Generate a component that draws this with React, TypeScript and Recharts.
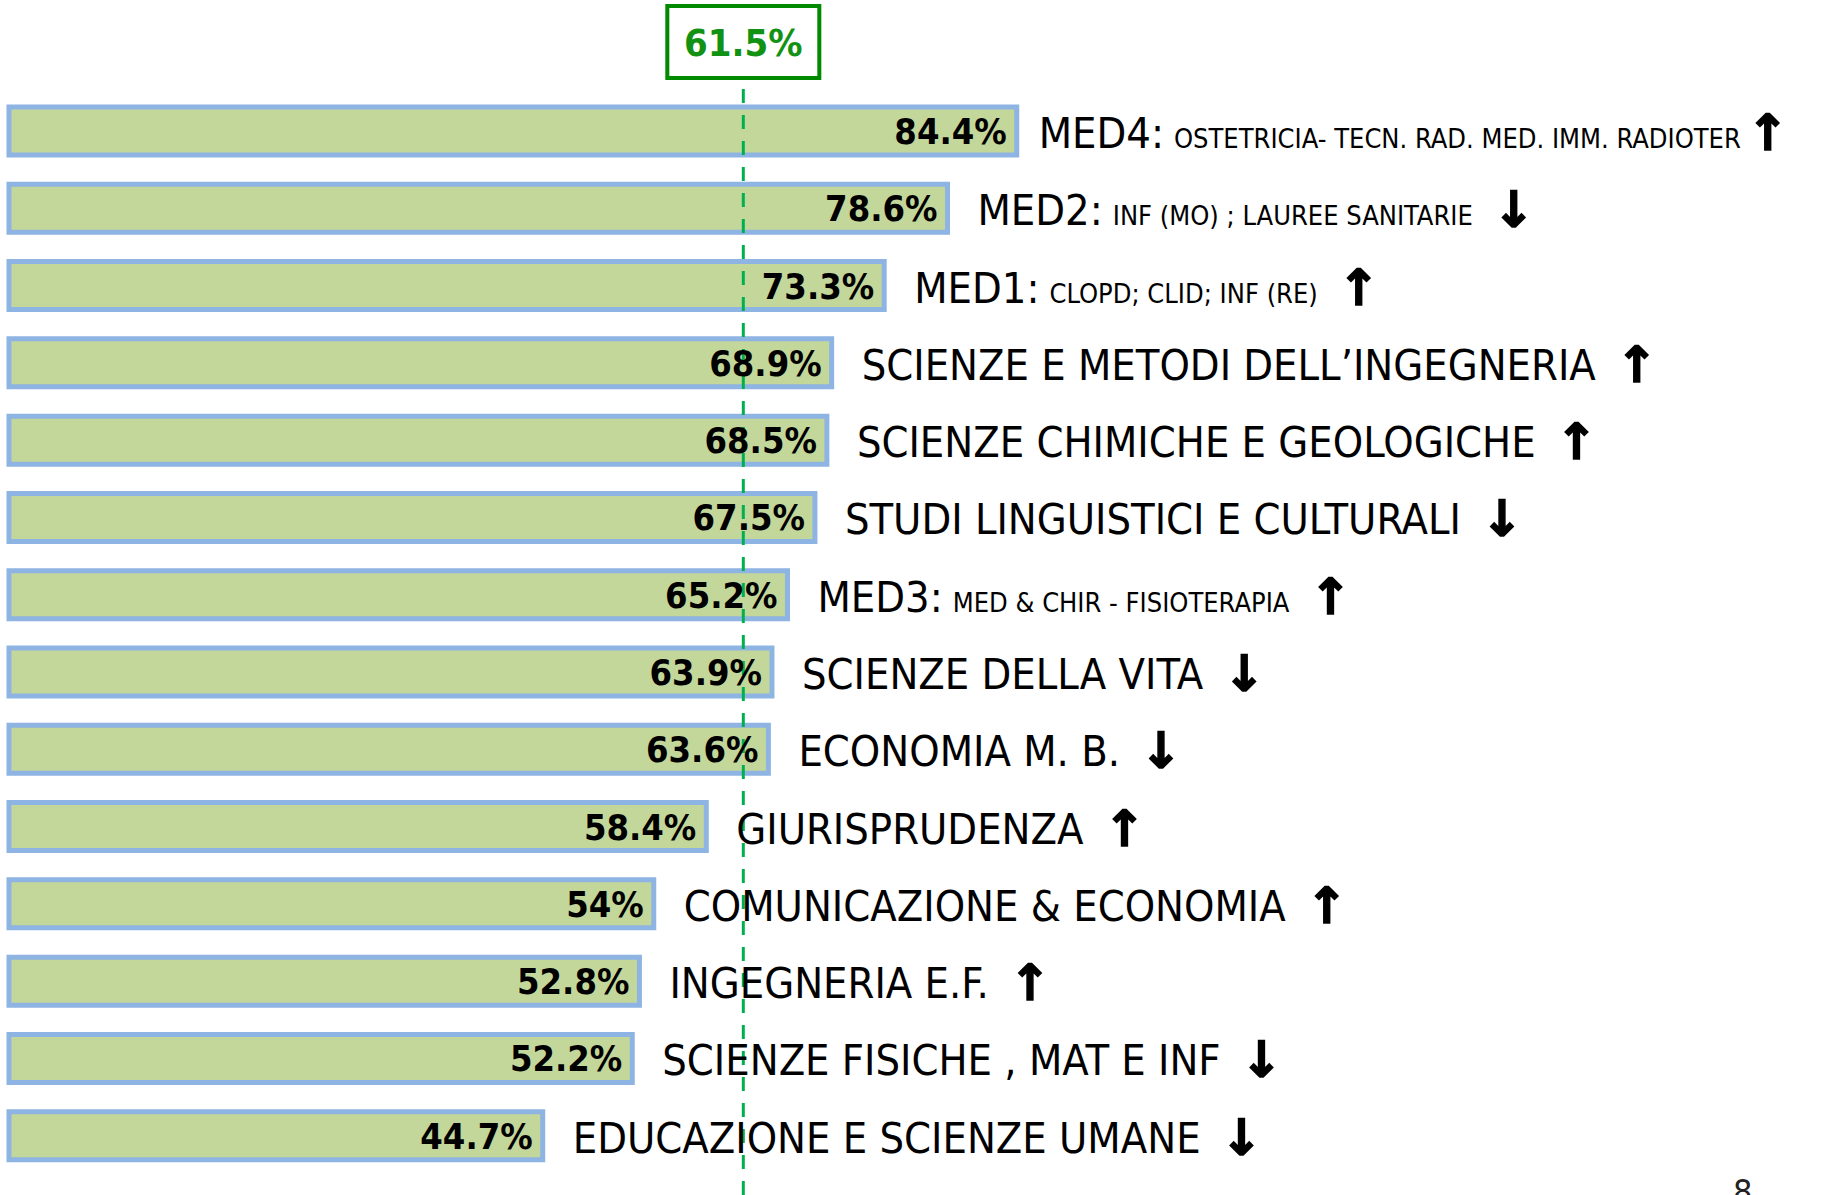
import { BarChart, Bar, XAxis, YAxis, ReferenceLine, LabelList } from "recharts";

const categories = [
  "MED4:",
  "MED2:",
  "MED1:",
  "SCIENZE E METODI DELL’INGEGNERIA",
  "SCIENZE CHIMICHE E GEOLOGICHE",
  "STUDI LINGUISTICI E CULTURALI",
  "MED3:",
  "SCIENZE DELLA VITA",
  "ECONOMIA M. B.",
  "GIURISPRUDENZA",
  "COMUNICAZIONE & ECONOMIA",
  "INGEGNERIA E.F.",
  "SCIENZE FISICHE , MAT E INF",
  "EDUCAZIONE E SCIENZE UMANE",
];

const subtitles = [
  "OSTETRICIA- TECN. RAD. MED. IMM. RADIOTER",
  "INF (MO) ; LAUREE SANITARIE",
  "CLOPD; CLID; INF (RE)",
  "",
  "",
  "",
  "MED & CHIR - FISIOTERAPIA",
  "",
  "",
  "",
  "",
  "",
  "",
  "",
];

const values = [84.4, 78.6, 73.3, 68.9, 68.5, 67.5, 65.2, 63.9, 63.6, 58.4, 54, 52.8, 52.2, 44.7];

const trends = ["up", "down", "up", "up", "up", "down", "up", "down", "down", "up", "up", "up", "down", "down"];

const average = 61.5;

const rows = categories.map((name, i) => ({
  name,
  sub: subtitles[i],
  value: values[i],
  trend: trends[i],
}));

const FONT = "'Liberation Sans Narrow', 'DejaVu Sans Condensed', 'Open Sans', sans-serif";

function ValueLabel(props: any) {
  const { x, y, width, height, value } = props;
  return (
    <text
      x={x + width - 10}
      y={y + height / 2 + 13}
      textAnchor="end"
      fontFamily={FONT}
      fontWeight="bold"
      fontSize={36}
      fill="#000"
    >
      {value}%
    </text>
  );
}

function CategoryLabel(props: any) {
  const { x, y, width, height, index } = props;
  const row = rows[index];
  const first = index === 0;
  return (
    <text x={x + width + (first ? 22 : 30)} y={y + height / 2 + 17} fontFamily={FONT} fontSize={43} fill="#000">
      <tspan>{row.name}</tspan>
      {row.sub ? (
        <tspan fontSize={27} dx={10}>
          {row.sub}
        </tspan>
      ) : null}
      <tspan
        fontFamily="DejaVu Sans"
        fontWeight="bold"
        fontSize={50}
        stroke="#000"
        strokeWidth={1.5}
        dx={first ? 6 : 20}
        dy={2}
      >
        {row.trend === "up" ? "↑" : "↓"}
      </tspan>
    </text>
  );
}

function AverageBox(props: any) {
  const { viewBox } = props;
  const cx = viewBox.x;
  const top = viewBox.y;
  return (
    <g>
      <rect x={cx - 76} y={top - 76} width={152} height={72} fill="#fff" stroke="#008a00" strokeWidth={4} />
      <text
        x={cx}
        y={top - 26}
        textAnchor="middle"
        fontFamily={FONT}
        fontWeight="bold"
        fontSize={38}
        fill="#129212"
      >
        {average}%
      </text>
    </g>
  );
}

export default function App() {
  return (
    <div style={{ position: "absolute", left: 0, top: 0, width: 1826, height: 1195, background: "#fff", overflow: "hidden" }}>
      <BarChart
        width={1826}
        height={1195}
        data={rows}
        layout="vertical"
        margin={{ top: 82, right: 26, bottom: 0, left: 9 }}
        barSize={48}
      >
        <XAxis type="number" domain={[0, 150]} hide />
        <YAxis
          type="category"
          dataKey="name"
          width={0}
          tick={false}
          tickLine={false}
          axisLine={{ stroke: "#000", strokeWidth: 1.5 }}
          padding={{ top: 10, bottom: 21 }}
        />
        <Bar dataKey="value" fill="#c4d79b" stroke="#8db4e2" strokeWidth={5} isAnimationActive={false}>
          <LabelList dataKey="value" content={<ValueLabel />} />
          <LabelList dataKey="name" content={<CategoryLabel />} />
        </Bar>
        <ReferenceLine
          x={average}
          stroke="#00b050"
          strokeWidth={3}
          strokeDasharray="14 12"
          label={<AverageBox />}
        />
      </BarChart>
      <div
        style={{
          position: "absolute",
          left: 1733,
          top: 1172,
          fontFamily: FONT,
          fontSize: 34,
          color: "#222",
        }}
      >
        8
      </div>
    </div>
  );
}
